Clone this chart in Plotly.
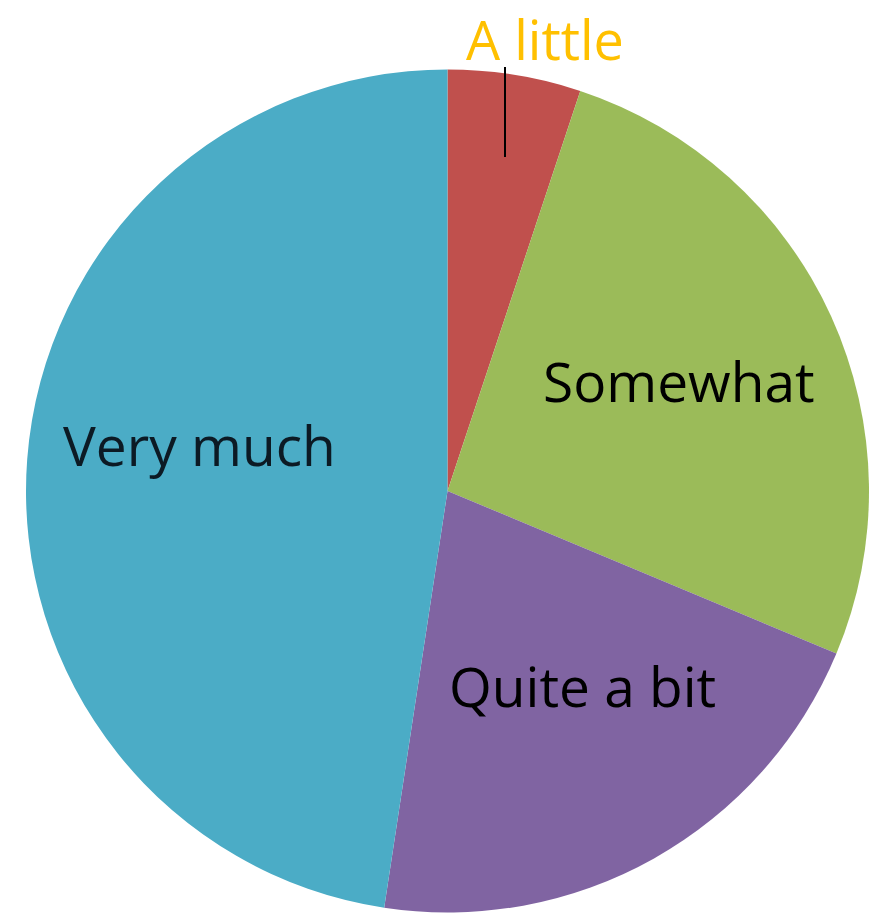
import plotly.graph_objects as go

categories = ["A little", "Somewhat", "Quite a bit", "Very much"]
values = [5.1, 26.2, 21.1, 47.6]
colors = ["#C0504D", "#9BBB59", "#8064A2", "#4BACC6"]

W, H = 869, 917

fig = go.Figure(go.Pie(
    labels=categories,
    values=values,
    sort=False,
    direction="clockwise",
    rotation=0,
    marker=dict(colors=colors, line=dict(width=0)),
    textinfo="none",
    hoverinfo="label+value",
    showlegend=False,
    domain=dict(x=[26 / W, 1.0], y=[2 / H, 850 / H]),
))

def px(x):
    return x / W

def py(y):
    return 1 - y / H

font_family = "Open Sans, Lato, sans-serif"
label_pos = {
    "Somewhat": (679, 380, "#000000"),
    "Very much": (199, 445, "#0c1a24"),
    "Quite a bit": (582, 685, "#000000"),
}
for name, (x, y, c) in label_pos.items():
    fig.add_annotation(
        x=px(x), y=py(y), xref="paper", yref="paper",
        text=name, showarrow=False, xanchor="center", yanchor="middle",
        font=dict(family=font_family, size=55, color=c),
    )

fig.add_annotation(
    x=px(545), y=1.0, xref="paper", yref="paper",
    text="A little", showarrow=False, xanchor="center", yanchor="top",
    font=dict(family=font_family, size=54, color="#FFC000"),
)

fig.add_shape(type="line", xref="paper", yref="paper",
              x0=px(505), x1=px(505), y0=py(67), y1=py(157),
              line=dict(color="black", width=2))

fig.update_layout(
    width=W, height=H,
    margin=dict(l=0, r=0, t=0, b=0),
    paper_bgcolor="white", plot_bgcolor="white",
)

fig.write_html("out.html")
